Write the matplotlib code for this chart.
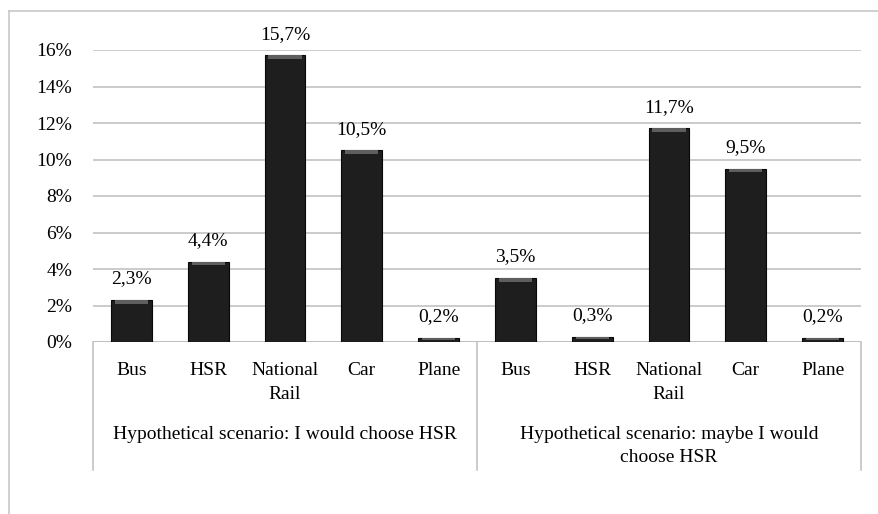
import matplotlib
matplotlib.use("Agg")
import matplotlib.pyplot as plt
import matplotlib.transforms as mtransforms
from matplotlib.patches import Rectangle

# values (percent)
modes = ["Bus", "HSR", "National\nRail", "Car", "Plane"]
groups = ["Hypothetical scenario: I would choose HSR",
          "Hypothetical scenario: maybe I would\nchoose HSR"]
would_choose = [2.3, 4.4, 15.7, 10.5, 0.2]
maybe_choose = [3.5, 0.3, 11.7, 9.5, 0.2]
yticks = [0, 2, 4, 6, 8, 10, 12, 14, 16]

plt.rcParams['font.family'] = ['Liberation Serif', 'DejaVu Serif']
FS = 14

fig = plt.figure(figsize=(8.79, 5.14), dpi=100)
ax = fig.add_axes([93/879, 1-342/514, (861-93)/879, 292/514])

values = would_choose + maybe_choose
labels = modes + modes
x = list(range(len(values)))

# outer chart frame (only top and left visible in the crop)
fig.add_artist(plt.Line2D([9/879, 1], [1-11/514, 1-11/514], color='#c8c8c8', lw=1.2,
                          transform=fig.transFigure))
fig.add_artist(plt.Line2D([9/879, 9/879], [0, 1-11/514], color='#c8c8c8', lw=1.2,
                          transform=fig.transFigure))

ax.set_xlim(-0.5, len(values) - 0.5)
ax.set_ylim(0, 16)
ax.set_yticks(yticks)
ax.set_yticklabels([f"{t}%" for t in yticks], fontsize=FS)
ax.set_xticks([])
ax.tick_params(axis='y', length=0, pad=15)
for s in ax.spines.values():
    s.set_visible(False)
ax.grid(axis='y', color='#bdbdbd', lw=1.1)
ax.set_axisbelow(True)

bars = ax.bar(x, values, width=0.53, color='#1e1e1e', edgecolor='#080808', lw=0.8, zorder=3)
# lighter bevel on top of each bar
for b, v in zip(bars, values):
    h = min(0.2, v * 0.5)
    ax.add_patch(Rectangle((b.get_x() + 0.05, v - h), b.get_width() - 0.1, h,
                           color='#5e5e5e', lw=0, zorder=4))
    ax.text(b.get_x() + b.get_width() / 2, v + 0.7, f"{v:.1f}%".replace('.', ','),
            ha='center', va='bottom', fontsize=FS, clip_on=False)

trans = mtransforms.blended_transform_factory(ax.transData, ax.transAxes)
# category labels
for xi, lab in zip(x, labels):
    ax.text(xi, -0.069, lab, transform=trans, ha='center', va='top',
            fontsize=FS, linespacing=1.5)
# group labels
for gi, g in enumerate(groups):
    ax.text(gi * 5 + 2, -0.286, g, transform=trans, ha='center', va='top',
            fontsize=FS, linespacing=1.5)

# x axis line and separators
ax.axhline(0, color='#bdbdbd', lw=1.1, zorder=2)
for sx in [-0.5, 4.5, 9.5]:
    ax.plot([sx, sx], [0, -128/292], transform=trans, color='#bdbdbd', lw=1.1, clip_on=False)

fig.savefig("out.png", dpi=100)
